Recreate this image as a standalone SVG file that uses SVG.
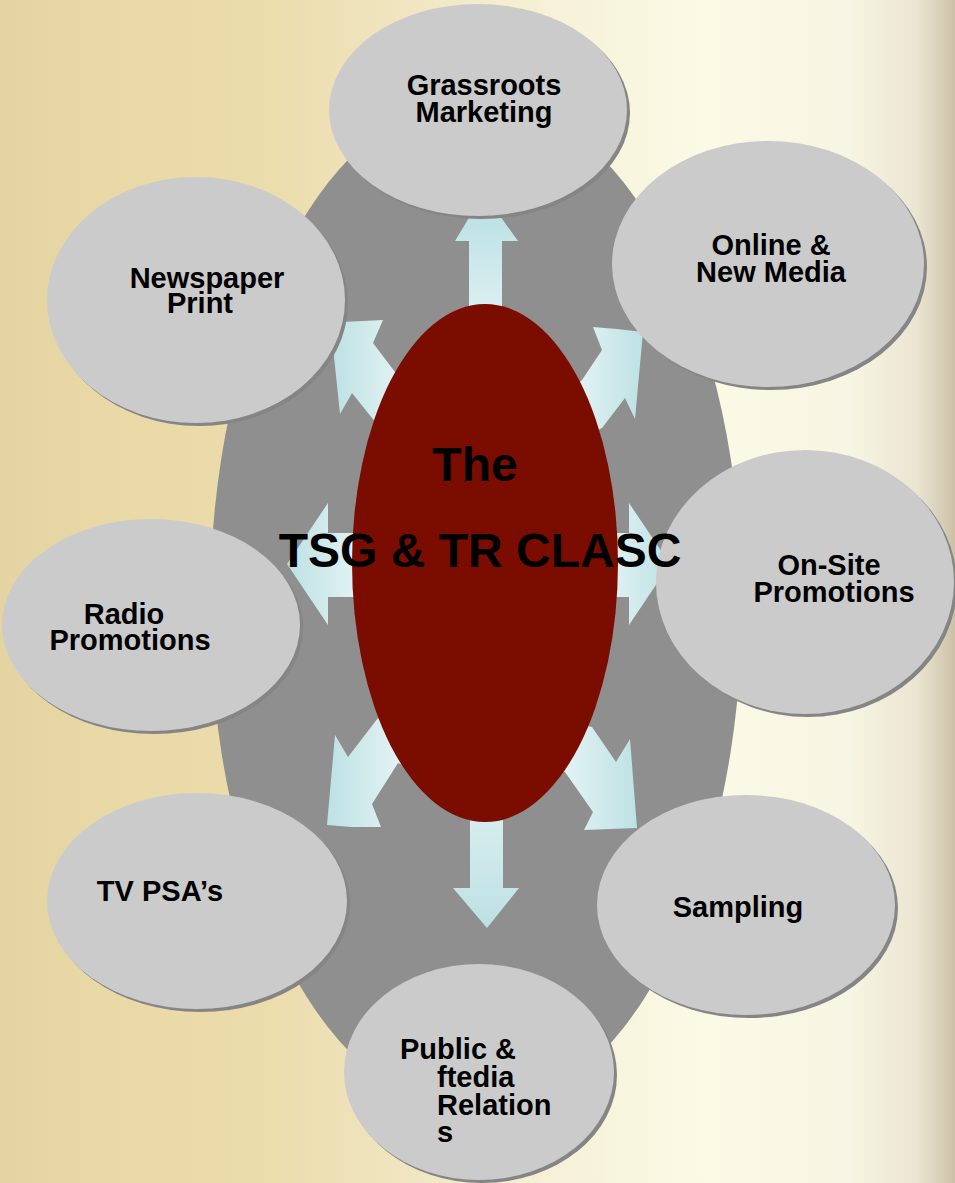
<svg xmlns="http://www.w3.org/2000/svg" width="955" height="1183" viewBox="0 0 955 1183">
  <defs>
    <linearGradient id="bg" x1="0" y1="0" x2="1" y2="0">
      <stop offset="0" stop-color="#e4d4a2"/>
      <stop offset="0.12" stop-color="#e9d9a7"/>
      <stop offset="0.28" stop-color="#ebdcab"/>
      <stop offset="0.42" stop-color="#f0e5c0"/>
      <stop offset="0.58" stop-color="#f6f1d8"/>
      <stop offset="0.74" stop-color="#fbfae5"/>
      <stop offset="0.89" stop-color="#f7f5e3"/>
      <stop offset="0.96" stop-color="#ebe5d1"/>
      <stop offset="1" stop-color="#cbc1a8"/>
    </linearGradient>
    <!-- arrow fills: darker cyan at the outer end, paler near the hub -->
    <linearGradient id="fadeUp" x1="0" y1="0" x2="0" y2="1">
      <stop offset="0" stop-color="#bde1e4"/>
      <stop offset="1" stop-color="#e2f3f4"/>
    </linearGradient>
    <linearGradient id="fadeDown" x1="0" y1="0" x2="0" y2="1">
      <stop offset="0" stop-color="#dbeff1"/>
      <stop offset="1" stop-color="#bde0e3"/>
    </linearGradient>
    <linearGradient id="fadeLeft" x1="0" y1="0" x2="1" y2="0">
      <stop offset="0" stop-color="#bde1e4"/>
      <stop offset="1" stop-color="#eef8f8"/>
    </linearGradient>
    <linearGradient id="fadeRight" x1="0" y1="0" x2="1" y2="0">
      <stop offset="0" stop-color="#eef8f8"/>
      <stop offset="1" stop-color="#bde1e4"/>
    </linearGradient>
    <style>
      .disc { fill: #cbcbcb; }
      .rim { fill: #858585; }
      .lbl { font-family: "Liberation Sans", Arial, sans-serif; font-weight: bold; font-size: 29px; fill: #000; }
      .hub-lbl { font-family: "Liberation Sans", Arial, sans-serif; font-weight: bold; font-size: 48px; fill: #000; }
    </style>
  </defs>

  <!-- backdrop -->
  <rect x="0" y="0" width="955" height="1183" fill="url(#bg)"/>

  <!-- large grey plate behind the hub -->
  <g id="plate">
    <ellipse cx="476" cy="605" rx="266" ry="508" fill="#8f8f8f"/>
  </g>

  <!-- arrows radiating from the hub -->
  <g id="connectors">
    <polygon fill="url(#fadeUp)" points="469,330 469,241 455,241 470,216 500,216 518,241 502,241 502,330"/>
    <polygon fill="url(#fadeDown)" points="470,800 503,800 503,888 519,888 487,928 453,888 470,888"/>
    <polygon fill="url(#fadeLeft)" points="380,533 328,533 328,503 287,564 328,625 328,597 380,597"/>
    <polygon fill="url(#fadeRight)" points="590,533 629,533 629,503 670,564 629,625 629,597 590,597"/>
    <polygon fill="url(#fadeLeft)" points="342,322 383,320 373,343 395,372 420,395 385,432 372,418 352,393 340,414 333,347"/>
    <polygon fill="url(#fadeRight)" points="593,327 617,329 643,332 635,419 625,398 602,428 570,442 558,400 582,380 602,350"/>
    <polygon fill="url(#fadeLeft)" points="335,735 348,757 378,718 420,725 420,772 398,763 372,804 381,827 352,827 327,825"/>
    <polygon fill="url(#fadeRight)" points="592,727 616,762 630,739 637,828 584,830 593,812 565,772 545,760 560,720"/>
  </g>

  <g id="grassroots">
    <ellipse class="rim" cx="481" cy="113" rx="149" ry="106"/>
    <ellipse class="disc" cx="478" cy="110" rx="149" ry="106"/>
    <text class="lbl" text-anchor="middle"><tspan x="484" y="95">Grassroots</tspan><tspan x="484" y="122">Marketing</tspan></text>
  </g>

  <g id="online">
    <ellipse class="rim" cx="771" cy="267" rx="156" ry="123"/>
    <ellipse class="disc" cx="768" cy="264" rx="156" ry="123"/>
    <text class="lbl" text-anchor="middle"><tspan x="771" y="255">Online &amp;</tspan><tspan x="771" y="282">New Media</tspan></text>
  </g>

  <g id="newspaper">
    <ellipse class="rim" cx="199" cy="303" rx="149" ry="123"/>
    <ellipse class="disc" cx="196" cy="300" rx="149" ry="123"/>
    <text class="lbl" text-anchor="middle"><tspan x="207" y="288">Newspaper</tspan><tspan x="200" y="313">Print</tspan></text>
  </g>

  <g id="radio">
    <ellipse class="rim" cx="154" cy="628" rx="149" ry="106"/>
    <ellipse class="disc" cx="151" cy="625" rx="149" ry="106"/>
    <text class="lbl" text-anchor="middle"><tspan x="124" y="624">Radio</tspan><tspan x="130" y="650">Promotions</tspan></text>
  </g>

  <g id="onsite">
    <ellipse class="rim" cx="808" cy="585" rx="149" ry="132"/>
    <ellipse class="disc" cx="805" cy="582" rx="149" ry="132"/>
    <text class="lbl" text-anchor="middle"><tspan x="829" y="575">On-Site</tspan><tspan x="834" y="602">Promotions</tspan></text>
  </g>

  <g id="tv">
    <ellipse class="rim" cx="200" cy="904" rx="150" ry="108"/>
    <ellipse class="disc" cx="197" cy="901" rx="150" ry="108"/>
    <text class="lbl" text-anchor="middle" x="160" y="901">TV PSA’s</text>
  </g>

  <g id="sampling">
    <ellipse class="rim" cx="749" cy="908" rx="149" ry="110"/>
    <ellipse class="disc" cx="746" cy="905" rx="149" ry="110"/>
    <text class="lbl" text-anchor="middle" x="738" y="917">Sampling</text>
  </g>

  <g id="public">
    <ellipse class="rim" cx="482" cy="1075" rx="135" ry="108"/>
    <ellipse class="disc" cx="479" cy="1072" rx="135" ry="108"/>
    <text class="lbl"><tspan x="400" y="1059">Public &amp;</tspan><tspan x="437" y="1087">ftedia</tspan><tspan x="437" y="1115">Relation</tspan><tspan x="437" y="1142">s</tspan></text>
  </g>

  <!-- hub -->
  <g id="hub">
    <ellipse cx="485" cy="563" rx="133" ry="259" fill="#7a0d00"/>
    <text class="hub-lbl" text-anchor="middle" x="475" y="481">The</text>
    <text class="hub-lbl" text-anchor="middle" x="480" y="567">TSG &amp; TR CLASC</text>
  </g>
</svg>
